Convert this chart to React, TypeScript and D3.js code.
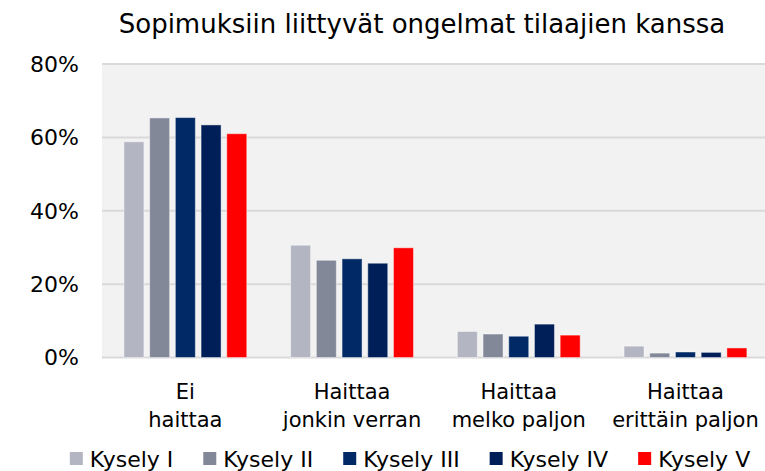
import React, { useMemo } from "react";
import * as d3 from "d3";

const categories: string[][] = [
  ["Ei", "haittaa"],
  ["Haittaa", "jonkin verran"],
  ["Haittaa", "melko paljon"],
  ["Haittaa", "erittäin paljon"],
];
const seriesNames = ["Kysely I", "Kysely II", "Kysely III", "Kysely IV", "Kysely V"];
const kysely1 = [58.8, 30.6, 7.1, 3.1];
const kysely2 = [65.3, 26.5, 6.4, 1.2];
const kysely3 = [65.4, 26.9, 5.8, 1.5];
const kysely4 = [63.4, 25.7, 9.1, 1.4];
const kysely5 = [61.0, 29.9, 6.1, 2.6];
const seriesValues = [kysely1, kysely2, kysely3, kysely4, kysely5];
const colors = ["#b4b5c3", "#838899", "#002966", "#001f58", "#ff0000"];
const yTicks = [0, 20, 40, 60, 80];
const title = "Sopimuksiin liittyvät ongelmat tilaajien kanssa";

const W = 765;
const H = 471;
const FONT = "'DejaVu Sans', sans-serif";

function measure(text: string, size: number): number {
  const c = document.createElement("canvas");
  const ctx = c.getContext("2d")!;
  ctx.font = `${size}px 'DejaVu Sans'`;
  return ctx.measureText(text).width;
}

export default function App() {
  const plotLeft = 102;
  const plotRight = 768.8;
  const plotTop = 64;
  const plotBottom = 357.5;

  const x0 = d3
    .scaleBand<number>()
    .domain(d3.range(categories.length))
    .range([plotLeft, plotRight])
    .paddingInner(0.263)
    .paddingOuter(0.1315);
  const x1 = d3
    .scaleBand<number>()
    .domain(d3.range(seriesNames.length))
    .range([0, x0.bandwidth()])
    .paddingInner(0.222)
    .paddingOuter(0);
  const y = d3.scaleLinear().domain([0, 80]).range([plotBottom, plotTop]);

  const legend = useMemo(() => {
    const sq = 13;
    const gapSq = 7;
    const gapItem = 30;
    const widths = seriesNames.map((s) => measure(s, 22));
    const itemW = widths.map((w) => sq + gapSq + w);
    const total = d3.sum(itemW) + gapItem * (seriesNames.length - 1);
    let cx = 410 - total / 2;
    return seriesNames.map((s, i) => {
      const item = { name: s, x: cx, color: colors[i] };
      cx += itemW[i] + gapItem;
      return item;
    });
  }, []);

  return (
    <svg
      width={W}
      height={H}
      style={{ position: "absolute", left: 0, top: 0, background: "#fff" }}
      fontFamily={FONT}
    >
      <rect
        x={plotLeft}
        y={plotTop - 1}
        width={W - plotLeft}
        height={plotBottom - plotTop + 1}
        fill="#f2f2f2"
      />
      {yTicks.map((t) => (
        <g key={t}>
          <line
            x1={plotLeft}
            x2={W}
            y1={y(t)}
            y2={y(t)}
            stroke="#d9d9d9"
            strokeWidth={2}
          />
          <text
            x={79}
            y={y(t)}
            dy="0.36em"
            textAnchor="end"
            fontSize={22}
            fill="#000"
          >
            {t}%
          </text>
        </g>
      ))}
      {categories.map((cat, ci) => (
        <g key={ci} transform={`translate(${x0(ci)},0)`}>
          {seriesValues.map((vals, si) => (
            <rect
              key={si}
              x={x1(si)}
              y={y(vals[ci])}
              width={x1.bandwidth()}
              height={y(0) - y(vals[ci])}
              fill={colors[si]}
              stroke="#ffffff"
              strokeOpacity={0.45}
              strokeWidth={1}
            />
          ))}
          {cat.map((line, li) => (
            <text
              key={li}
              x={x0.bandwidth() / 2}
              y={399 + li * 28}
              textAnchor="middle"
              fontSize={21}
              fill="#000"
            >
              {line}
            </text>
          ))}
        </g>
      ))}
      <text x={422} y={33} textAnchor="middle" fontSize={26} fill="#000">
        {title}
      </text>
      {legend.map((it) => (
        <g key={it.name} transform={`translate(${it.x},0)`}>
          <rect x={0} y={452} width={13} height={13} fill={it.color} />
          <text x={20} y={467} fontSize={22} fill="#000">
            {it.name}
          </text>
        </g>
      ))}
    </svg>
  );
}
